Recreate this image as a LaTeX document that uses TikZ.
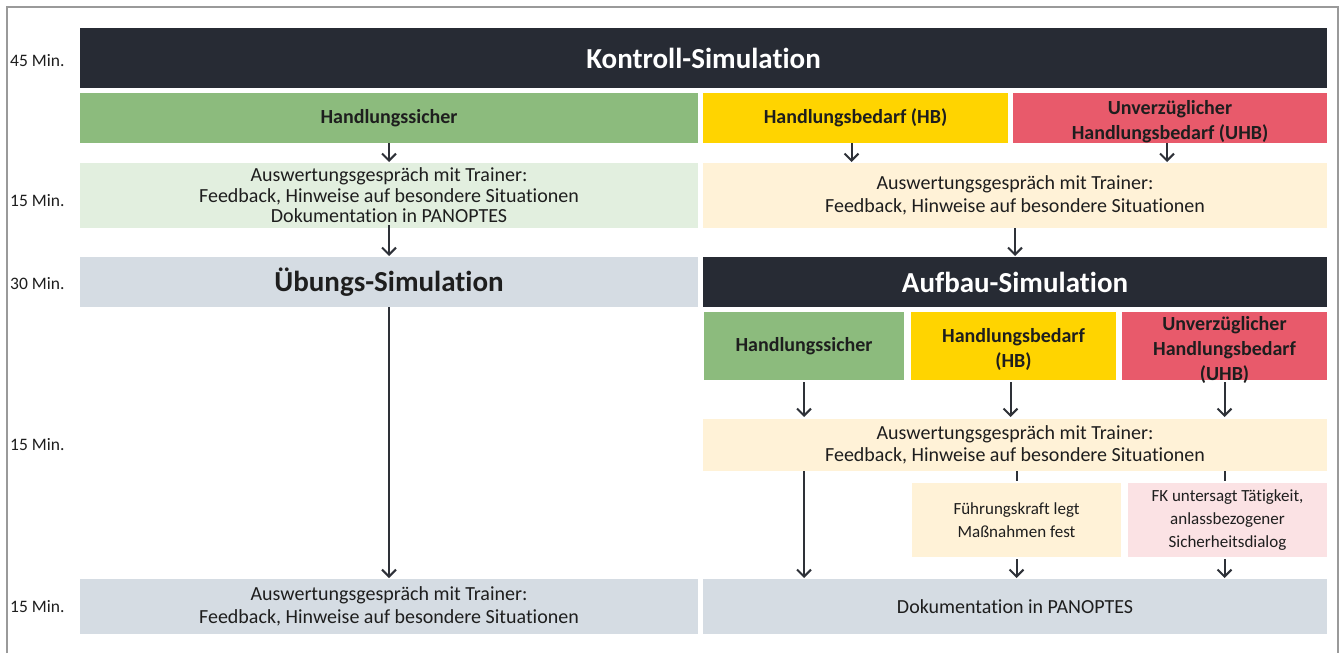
\documentclass[tikz,border=0pt]{standalone}
\usepackage{fontspec}
\setmainfont{Carlito}[Ligatures={NoCommon}]
\usetikzlibrary{arrows.meta}
\definecolor{darkbox}{HTML}{272B34}
\definecolor{greenbox}{HTML}{8CBB7D}
\definecolor{yellowbox}{HTML}{FFD400}
\definecolor{redbox}{HTML}{E85A6B}
\definecolor{lgreen}{HTML}{E2EFDF}
\definecolor{cream}{HTML}{FFF2D7}
\definecolor{lpink}{HTML}{FBE2E4}
\definecolor{graybox}{HTML}{D5DCE3}
\definecolor{txt}{HTML}{1E1E1E}
\definecolor{arrc}{HTML}{2E3138}
\definecolor{framec}{HTML}{9A9A9A}
\newcommand\lowr{\rule{0pt}{22pt}}
\begin{document}
\begin{tikzpicture}[x=1pt,y=-1pt,
  box/.style={rectangle, inner xsep=0pt, inner ysep=-10pt, outer sep=0pt, align=center, text=txt,
              font=\fontsize{20}{20.5}\selectfont},
  twoline/.style={font=\fontsize{20}{22.5}\selectfont},
  bigtxt/.style={font=\bfseries\fontsize{29}{33}\selectfont},
  lbl/.style={font=\bfseries\fontsize{20}{25}\selectfont},
  smalltxt/.style={font=\fontsize{17}{23}\selectfont},
  timelbl/.style={anchor=west, inner sep=0pt, text=txt, font=\fontsize{17.5}{20}\selectfont},
  arr/.style={draw=arrc, line width=2pt, -{Straight Barb[length=7pt,width=14pt]}},
  tick/.style={draw=arrc, line width=2pt}]
\useasboundingbox (0,0) rectangle (1340,653);
\fill[white] (0,0) rectangle (1340,653);
\draw[framec, line width=1.2pt] (7,653) -- (7,7) -- (1338,7) -- (1338,653);

% time labels
\node[timelbl] (t1) at (10,61) {45 Min.};
\node[timelbl] (t2) at (10,201) {15 Min.};
\node[timelbl] (t3) at (10,284) {30 Min.};
\node[timelbl] (t4) at (10,445) {15 Min.};
\node[timelbl] (t5) at (10,607) {15 Min.};

% row 1
\node[box, bigtxt, fill=darkbox, text=white, minimum width=1247pt, minimum height=60pt] (kontroll) at (703.5,58) {Kontroll-Simulation};

% row 2
\node[box, lbl, fill=greenbox, minimum width=618pt, minimum height=50pt] (hs1) at (389,118) {Handlungssicher};
\node[box, lbl, fill=yellowbox, minimum width=305pt, minimum height=50pt] (hb1) at (855.5,118) {Handlungsbedarf (HB)};
\node[box, lbl, fill=redbox, minimum width=314pt, minimum height=50pt] (uhb1) at (1170,118) {\lowr Unverzüglicher\\Handlungsbedarf (UHB)};

% row 3
\node[box, fill=lgreen, minimum width=618pt, minimum height=65pt] (aw1L) at (389,195.5) {Auswertungsgespräch mit Trainer:\\Feedback, Hinweise auf besondere Situationen\\Dokumentation in PANOPTES};
\node[box, twoline, fill=cream, minimum width=624pt, minimum height=65pt] (aw1R) at (1015,195.5) {Auswertungsgespräch mit Trainer:\\Feedback, Hinweise auf besondere Situationen};

% row 4
\node[box, bigtxt, fill=graybox, minimum width=618pt, minimum height=50pt] (ueb) at (389,282) {Übungs-Simulation};
\node[box, bigtxt, fill=darkbox, text=white, minimum width=624pt, minimum height=50pt] (auf) at (1015,282) {Aufbau-Simulation};

% row 5
\node[box, lbl, fill=greenbox, minimum width=200pt, minimum height=68pt] (hs2) at (804,346) {Handlungssicher};
\node[box, lbl, fill=yellowbox, minimum width=205pt, minimum height=68pt] (hb2) at (1013.5,346) {\lowr Handlungsbedarf\\(HB)};
\node[box, lbl, fill=redbox, minimum width=205pt, minimum height=68pt] (uhb2) at (1224.5,346) {\lowr Unverzüglicher\\Handlungsbedarf\\(UHB)};

% row 6
\node[box, twoline, fill=cream, minimum width=624pt, minimum height=52pt] (aw2) at (1015,445) {Auswertungsgespräch mit Trainer:\\Feedback, Hinweise auf besondere Situationen};

% row 7
\node[box, smalltxt, fill=cream, minimum width=209pt, minimum height=74pt] (fk) at (1016.5,520) {Führungskraft legt\\Maßnahmen fest};
\node[box, smalltxt, fill=lpink, minimum width=199pt, minimum height=74pt] (fku) at (1227.5,520) {FK untersagt Tätigkeit,\\anlassbezogener\\Sicherheitsdialog};

% row 8
\node[box, twoline, fill=graybox, minimum width=618pt, minimum height=55pt] (awL3) at (389,606.5) {Auswertungsgespräch mit Trainer:\\Feedback, Hinweise auf besondere Situationen};
\node[box, fill=graybox, minimum width=624pt, minimum height=55pt] (doku) at (1015,606.5) {Dokumentation in PANOPTES};

% connectors
\draw[arr, shorten >=1pt] (hs1.south) -- (aw1L.north);
\draw[arr, shorten >=1pt] ([xshift=-4pt]hb1.south) -- ([xshift=-4pt]hb1.south |- aw1R.north);
\draw[arr, shorten >=1pt] ([xshift=-3pt]uhb1.south) -- ([xshift=-3pt]uhb1.south |- aw1R.north);
\draw[arr, shorten <=-3pt, shorten >=1pt] (aw1L.south) -- (ueb.north);
\draw[arr, shorten >=1pt] (aw1R.south) -- (auf.north);
\draw[arr, shorten >=1pt] (ueb.south) -- (awL3.north);
\draw[arr, shorten <=2pt, shorten >=2pt] (hs2.south) -- (hs2.south |- aw2.north);
\draw[arr, shorten <=2pt, shorten >=2pt] ([xshift=-3pt]hb2.south) -- ([xshift=-3pt]hb2.south |- aw2.north);
\draw[arr, shorten <=2pt, shorten >=2pt] (uhb2.south) -- (uhb2.south |- aw2.north);
\draw[arr, shorten >=1pt] (aw2.south -| hs2.south) -- (doku.north -| hs2.south);
\draw[tick] (aw2.south -| fk.north) -- ([yshift=2pt]fk.north);
\draw[tick] (aw2.south -| uhb2.south) -- ([yshift=2pt]fku.north -| uhb2.south);
\draw[arr, shorten <=2pt, shorten >=1pt] (fk.south) -- (fk.south |- doku.north);
\draw[arr, shorten <=2pt, shorten >=1pt] (fku.south -| uhb2.south) -- (doku.north -| uhb2.south);
\end{tikzpicture}
\end{document}
